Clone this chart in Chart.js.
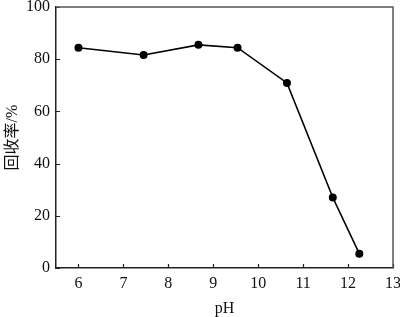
<!DOCTYPE html>
<html>
<head>
<meta charset="utf-8">
<script src="https://cdn.jsdelivr.net/npm/chart.js@4.4.1/dist/chart.umd.min.js"></script>
<style>
  html, body { margin: 0; padding: 0; background: #fff; }
  #wrap { width: 400px; height: 317px; }
</style>
</head>
<body>
<div id="wrap"><canvas id="c" width="400" height="317"></canvas></div>
<script>
// data
const phValues = [6.0, 7.45, 8.67, 9.54, 10.64, 11.66, 12.25];
const recovery = [84.4, 81.6, 85.5, 84.4, 70.9, 27.0, 5.5];
const xTicks = [6, 7, 8, 9, 10, 11, 12, 13];
const yTicks = [0, 20, 40, 60, 80, 100];

const serif = "'Liberation Serif', 'Times New Roman', 'Noto Sans CJK SC', serif";

// inward tick marks + box frame
const frame = {
  id: 'frame',
  afterDraw(chart) {
    const ctx = chart.ctx;
    const a = chart.chartArea;
    const xs = chart.scales.x, ys = chart.scales.y;
    ctx.save();
    ctx.strokeStyle = '#222';
    ctx.lineWidth = 1.2;
    ctx.beginPath();
    xTicks.forEach(v => {
      const px = Math.round(xs.getPixelForValue(v)) + 0.5;
      ctx.moveTo(px, a.bottom);
      ctx.lineTo(px, a.bottom - 4);
    });
    yTicks.forEach(v => {
      const py = Math.round(ys.getPixelForValue(v)) + 0.5;
      ctx.moveTo(a.left, py);
      ctx.lineTo(a.left + 4, py);
    });
    ctx.stroke();
    ctx.strokeStyle = '#555';
    ctx.lineWidth = 1.5;
    ctx.beginPath();
    ctx.moveTo(a.left, a.top);
    ctx.lineTo(a.right, a.top);
    ctx.lineTo(a.right, a.bottom);
    ctx.stroke();
    ctx.restore();
  }
};

new Chart(document.getElementById('c'), {
  type: 'scatter',
  data: {
    datasets: [{
      data: phValues.map((x, i) => ({x: x, y: recovery[i]})),
      showLine: true,
      borderColor: '#000',
      backgroundColor: '#000',
      borderWidth: 1.6,
      pointRadius: 3.2,
      pointHoverRadius: 3.2
    }]
  },
  options: {
    responsive: false,
    animation: false,
    layout: { padding: { left: 0, top: 7, right: 7, bottom: 0 } },
    plugins: { legend: { display: false }, tooltip: { enabled: false } },
    scales: {
      x: {
        type: 'linear',
        min: 5.5, max: 13,
        afterBuildTicks: s => { s.ticks = xTicks.map(v => ({value: v})); },
        afterFit: s => { s.height = 49; s.paddingLeft = 0; s.paddingRight = 0; },
        grid: { display: false, drawTicks: false, tickLength: 0 },
        border: { display: true, color: '#222', width: 1.5 },
        ticks: { color: '#111', padding: 6, maxRotation: 0, font: { family: serif, size: 16 } },
        title: { display: true, text: 'pH', color: '#111', padding: { top: 4, bottom: 0 }, font: { family: serif, size: 16, lineHeight: 1 } }
      },
      y: {
        min: 0, max: 100,
        afterBuildTicks: s => { s.ticks = yTicks.map(v => ({value: v})); },
        afterFit: s => { s.width = 56; s.paddingTop = 0; s.paddingBottom = 0; },
        grid: { display: false, drawTicks: false, tickLength: 0 },
        border: { display: true, color: '#222', width: 1.5 },
        ticks: { color: '#111', padding: 6, font: { family: serif, size: 16 } },
        title: { display: true, text: '回收率/%', color: '#111', padding: { top: 4, bottom: 0 }, font: { family: serif, size: 16, lineHeight: 1.1 } }
      }
    }
  },
  plugins: [frame]
});
</script>
</body>
</html>
